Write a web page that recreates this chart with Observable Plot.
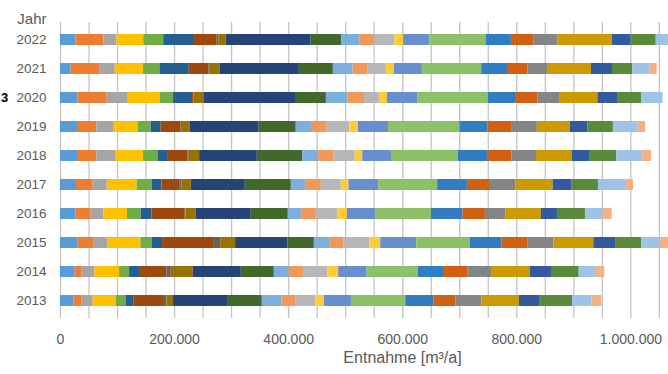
<!DOCTYPE html>
<html><head><meta charset="utf-8">
<script src="https://cdn.jsdelivr.net/npm/d3@7"></script>
<script src="https://cdn.jsdelivr.net/npm/@observablehq/plot@0.6"></script>
<style>html,body{margin:0;padding:0;background:#fff;overflow:hidden}</style>
</head><body><div id="chart"></div>
<script>
// Years (categories)
const years = ["2013","2014","2015","2016","2017","2018","2019","2020","2021","2022"];
// Series values in 1000 m³/a, one entry per year (2013 … 2022)
const s01 = [24.0, 25.8, 31.1, 27.0, 28.1, 29.8, 29.8, 30.5, 18.8, 27.0];
const s02 = [14.0, 12.3, 28.1, 26.8, 29.3, 34.0, 34.0, 51.4, 50.9, 49.0];
const s03 = [19.3, 22.3, 24.0, 22.3, 24.6, 33.9, 29.1, 35.6, 26.3, 23.0];
const s04 = [40.4, 43.2, 57.9, 41.4, 52.6, 47.9, 43.3, 57.9, 49.6, 47.0];
const s05 = [17.5, 17.5, 19.8, 24.0, 26.3, 25.8, 22.8, 22.8, 28.8, 35.0];
const s06 = [14.0, 17.5, 18.1, 18.8, 17.0, 16.3, 17.5, 33.3, 51.4, 54.0];
const s07 = [51.4, 48.1, 90.7, 58.4, 32.1, 35.8, 33.9, 1.8, 34.6, 39.0];
const s08 = [6.0, 7.5, 11.1, 1.2, 3.0, 2.3, 1.2, 0.9, 2.3, 3.5];
const s09 = [11.6, 38.6, 26.3, 18.1, 16.3, 18.1, 15.8, 17.5, 17.5, 13.0];
const s10 = [94.7, 84.2, 91.9, 96.5, 94.7, 101.2, 121.0, 161.9, 138.6, 149.0];
const s11 = [60.9, 57.9, 46.1, 64.9, 80.7, 79.5, 64.9, 52.6, 59.6, 54.0];
const s12 = [34.6, 26.3, 26.8, 24.6, 25.1, 28.1, 26.8, 38.1, 34.6, 32.0];
const s13 = [23.9, 26.3, 24.6, 24.6, 27.5, 26.7, 27.5, 28.6, 25.6, 25.0];
const s14 = [35.1, 40.9, 45.6, 38.1, 35.1, 37.2, 39.8, 26.3, 32.8, 36.0];
const s15 = [15.3, 19.3, 19.3, 16.3, 13.5, 13.3, 15.1, 14.0, 14.0, 15.0];
const s16 = [47.4, 49.8, 63.2, 49.1, 51.9, 50.4, 52.6, 53.9, 49.1, 46.0];
const s17 = [95.3, 90.0, 94.2, 98.2, 103.5, 117.0, 125.3, 122.8, 104.0, 99.0];
const s18 = [49.1, 45.6, 55.6, 55.6, 52.1, 51.4, 49.1, 47.9, 46.8, 44.0];
const s19 = [38.6, 40.9, 45.6, 39.1, 40.4, 42.6, 42.6, 39.1, 34.6, 40.0];
const s20 = [45.6, 41.6, 44.9, 36.3, 45.1, 43.3, 43.9, 39.3, 33.9, 42.0];
const s21 = [66.1, 68.4, 70.2, 61.9, 64.9, 62.6, 57.9, 66.0, 77.2, 95.0];
const s22 = [35.1, 36.8, 39.3, 28.1, 33.3, 31.6, 31.1, 35.8, 36.8, 33.0];
const s23 = [57.9, 48.6, 44.4, 49.1, 46.1, 46.7, 44.4, 40.9, 35.6, 44.0];
const s24 = [33.9, 28.6, 33.3, 31.1, 47.4, 45.1, 42.6, 37.4, 29.8, 35.0];
const s25 = [17.5, 16.3, 14.0, 15.8, 14.0, 15.8, 14.0, 0.0, 13.0, 12.0];
const seriesValues = [s01,s02,s03,s04,s05,s06,s07,s08,s09,s10,s11,s12,s13,s14,s15,s16,s17,s18,s19,s20,s21,s22,s23,s24,s25];
const seriesNames = seriesValues.map((_, i) => "Reihe " + (i + 1));
const seriesColors = ["#5B9BD5","#ED7D31","#A5A5A5","#FFC000","#70AD47","#255E91","#9E480E","#636363","#997300","#264478","#43682B","#7CAFDD","#F1975A","#B7B7B7","#FFCD33","#698ED0","#8CC168","#327DC2","#D26012","#848484","#CC9A00","#335AA1","#5A8A39","#9DC3E6","#F4B183"];
// Axis ticks
const xTickLabels = [0, 200000, 400000, 600000, 800000, 1000000];
const xGrid = d3.range(0, 1050001, 50000);
const xMax = 1066000;
const UNIT = 1000;

const rows = [];
seriesValues.forEach((vals, i) => vals.forEach((v, j) =>
  rows.push({year: years[j], series: seriesNames[i], value: v * UNIT})));

const fmt = d => d3.format(",")(d).replace(/,/g, ".");

const chart = Plot.plot({
  width: 668, height: 374,
  marginLeft: 60, marginRight: 0, marginTop: 22, marginBottom: 56,
  style: {fontFamily: "'Liberation Sans', Arial, sans-serif", fontSize: "13.5px", color: "#595959", background: "#fff"},
  x: {domain: [0, xMax]},
  y: {domain: years.slice().reverse(), paddingInner: 0.61, paddingOuter: 0.3},
  color: {domain: seriesNames, range: seriesColors},
  marks: [
    Plot.gridX(xGrid, {stroke: "#c4c4c4", strokeOpacity: 1, strokeWidth: 1.3}),
    Plot.barX(rows, Plot.stackX({y: "year", x: "value", fill: "series"})),
    Plot.axisY({tickSize: 0, tickPadding: 14, label: null}),
    Plot.axisX({ticks: xTickLabels, tickFormat: fmt, tickSize: 0, tickPadding: 16, label: null, fontSize: 14}),
    Plot.text(["Jahr"], {frameAnchor: "top-left", dx: -14, dy: -9, textAnchor: "end", fontSize: 15, fill: "#595959"}),
    Plot.text(["Entnahme [m³/a]"], {frameAnchor: "bottom", dx: 38, dy: 44, fontSize: 16, fill: "#595959"}),
    Plot.text(["3"], {y: () => "2020", frameAnchor: "left", dx: -59.5, textAnchor: "start", fontSize: 13, fontWeight: "bold", fill: "#000"})
  ]
});
document.getElementById("chart").appendChild(chart);
</script>
</body></html>
